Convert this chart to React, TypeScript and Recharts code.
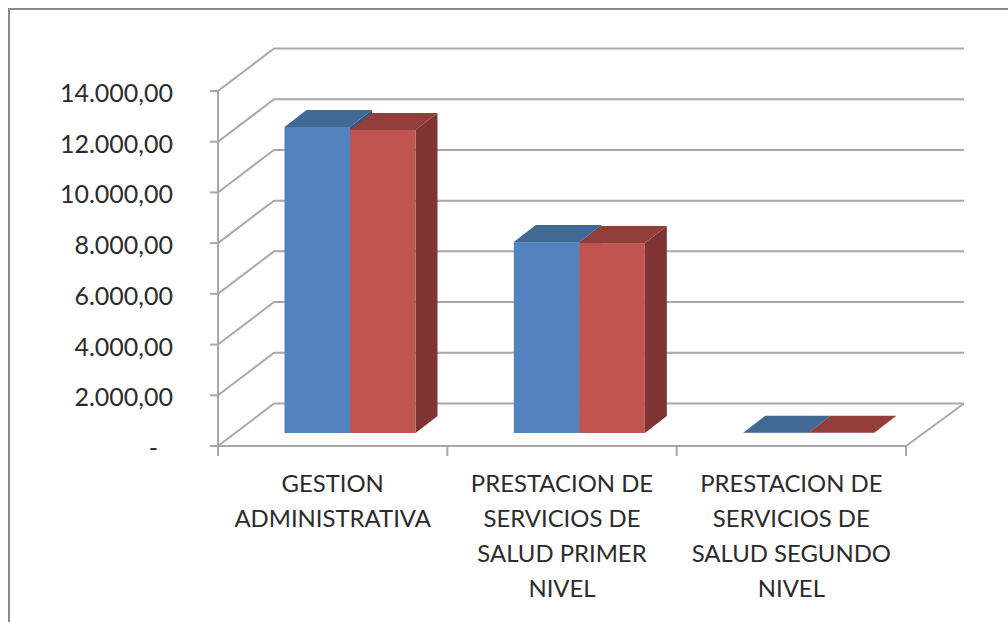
import React from "react";
import { BarChart, Bar, XAxis, YAxis, CartesianGrid } from "recharts";

const categories = ["GESTION ADMINISTRATIVA", "PRESTACION DE SERVICIOS DE SALUD PRIMER NIVEL", "PRESTACION DE SERVICIOS DE SALUD SEGUNDO NIVEL"];
const categoryLines = [
  ["GESTION", "ADMINISTRATIVA"],
  ["PRESTACION DE", "SERVICIOS DE", "SALUD PRIMER", "NIVEL"],
  ["PRESTACION DE", "SERVICIOS DE", "SALUD SEGUNDO", "NIVEL"],
];
const seriesBlue = [12070, 7530, 5];
const seriesRed = [11950, 7490, 5];
const yTicks = [0, 2000, 4000, 6000, 8000, 10000, 12000, 14000];
const yTickLabels = ["-", "2.000,00", "4.000,00", "6.000,00", "8.000,00", "10.000,00", "12.000,00", "14.000,00"];

const data = categories.map((name, i) => ({ name, blue: seriesBlue[i], red: seriesRed[i] }));

const FONT = "Lato, 'Open Sans', sans-serif";
const GRID = "#a8a8a8";
const TEXT = "#2b2b2b";
const BAND = 229.3;
const WALL_X = 56;
const WALL_Y = 42.5;
const BACK_RIGHT = 964;
const FLOOR_Y = 446;
const OFF_X = 17.5;
const OFF_Y = 13;
const DEPTH_X = 22;
const DEPTH_Y = 17;

const pts = (a: number[][]) => a.map((p) => p.join(",")).join(" ");

const box = (front: string, top: string, side: string) => (p: any) => {
  const x = p.x + OFF_X;
  const y = p.y - OFF_Y;
  const w = p.width;
  const h = p.height;
  return (
    <g>
      <polygon points={pts([[x + w, y], [x + w + DEPTH_X, y - DEPTH_Y], [x + w + DEPTH_X, y + h - DEPTH_Y], [x + w, y + h]])} fill={side} />
      <polygon points={pts([[x, y], [x + DEPTH_X, y - DEPTH_Y], [x + w + DEPTH_X, y - DEPTH_Y], [x + w, y]])} fill={top} />
      <rect x={x} y={y} width={w} height={h} fill={front} />
    </g>
  );
};

const wallLine = (p: any) => {
  const { x1, y1, key } = p;
  const isFloor = Math.abs(y1 - FLOOR_Y) < 1;
  return (
    <g key={key}>
      <polyline
        points={pts([[x1, y1], [x1 + WALL_X, y1 - WALL_Y], [BACK_RIGHT, y1 - WALL_Y]])}
        fill="none" stroke={GRID} strokeWidth={2}
      />
      {isFloor && (
        <line x1={BACK_RIGHT} y1={y1 - WALL_Y} x2={BACK_RIGHT - WALL_X - 2} y2={y1} stroke={GRID} strokeWidth={2} />
      )}
    </g>
  );
};

const XTick = (p: any) => {
  const { x, y, index } = p;
  const lines = categoryLines[index] || [];
  return (
    <g>
      <line x1={x - BAND / 2} x2={x - BAND / 2} y1={y} y2={y + 10} stroke={GRID} strokeWidth={2} />
      {index === categories.length - 1 && (
        <line x1={x + BAND / 2} x2={x + BAND / 2} y1={y} y2={y + 10} stroke={GRID} strokeWidth={2} />
      )}
      <text textAnchor="middle" fontFamily={FONT} fontSize={23.9} fill={TEXT}>
        {lines.map((l: string, i: number) => (
          <tspan key={i} x={x} y={y + 46 + i * 35}>{l}</tspan>
        ))}
      </text>
    </g>
  );
};

const YTick = (p: any) => {
  const { x, y, payload, index } = p;
  const isZero = payload.value === 0;
  return (
    <text x={isZero ? x - 15 : x} y={y + 11} textAnchor="end" fontFamily={FONT} fontSize={25} fill={TEXT}>
      {yTickLabels[index]}
    </text>
  );
};

export default function App() {
  return (
    <div style={{ position: "absolute", left: 0, top: 0, width: 1008, height: 622, overflow: "hidden", background: "#fff" }}>
      <div style={{ position: "absolute", left: 8, top: 8, width: 1000, height: 614, boxSizing: "border-box", borderLeft: "2px solid #8a8a8a", borderTop: "2px solid #8a8a8a" }} />
      <div style={{ position: "absolute", left: 0, top: 0 }}>
        <BarChart
          width={1008}
          height={622}
          data={data}
          margin={{ top: 91, right: 102, bottom: 0, left: 0 }}
          barGap={0}
          barCategoryGap={49}
        >
          <CartesianGrid horizontal={wallLine} vertical={false} />
          <XAxis dataKey="name" height={176} tick={<XTick />} tickLine={false} tickSize={0} tickMargin={0} interval={0} axisLine={{ stroke: GRID, strokeWidth: 2 }} />
          <YAxis
            width={218}
            domain={[0, 14000]}
            ticks={yTicks}
            interval={0}
            tick={<YTick />}
            tickSize={8}
            tickMargin={37}
            tickLine={{ stroke: GRID, strokeWidth: 2 }}
            axisLine={{ stroke: GRID, strokeWidth: 2 }}
          />
          <Bar dataKey="blue" barSize={65.5} isAnimationActive={false} shape={box("#5383bf", "#426894", "#37577c")} />
          <Bar dataKey="red" barSize={65.5} isAnimationActive={false} shape={box("#c0544f", "#933e3b", "#7e3432")} />
        </BarChart>
      </div>
    </div>
  );
}
